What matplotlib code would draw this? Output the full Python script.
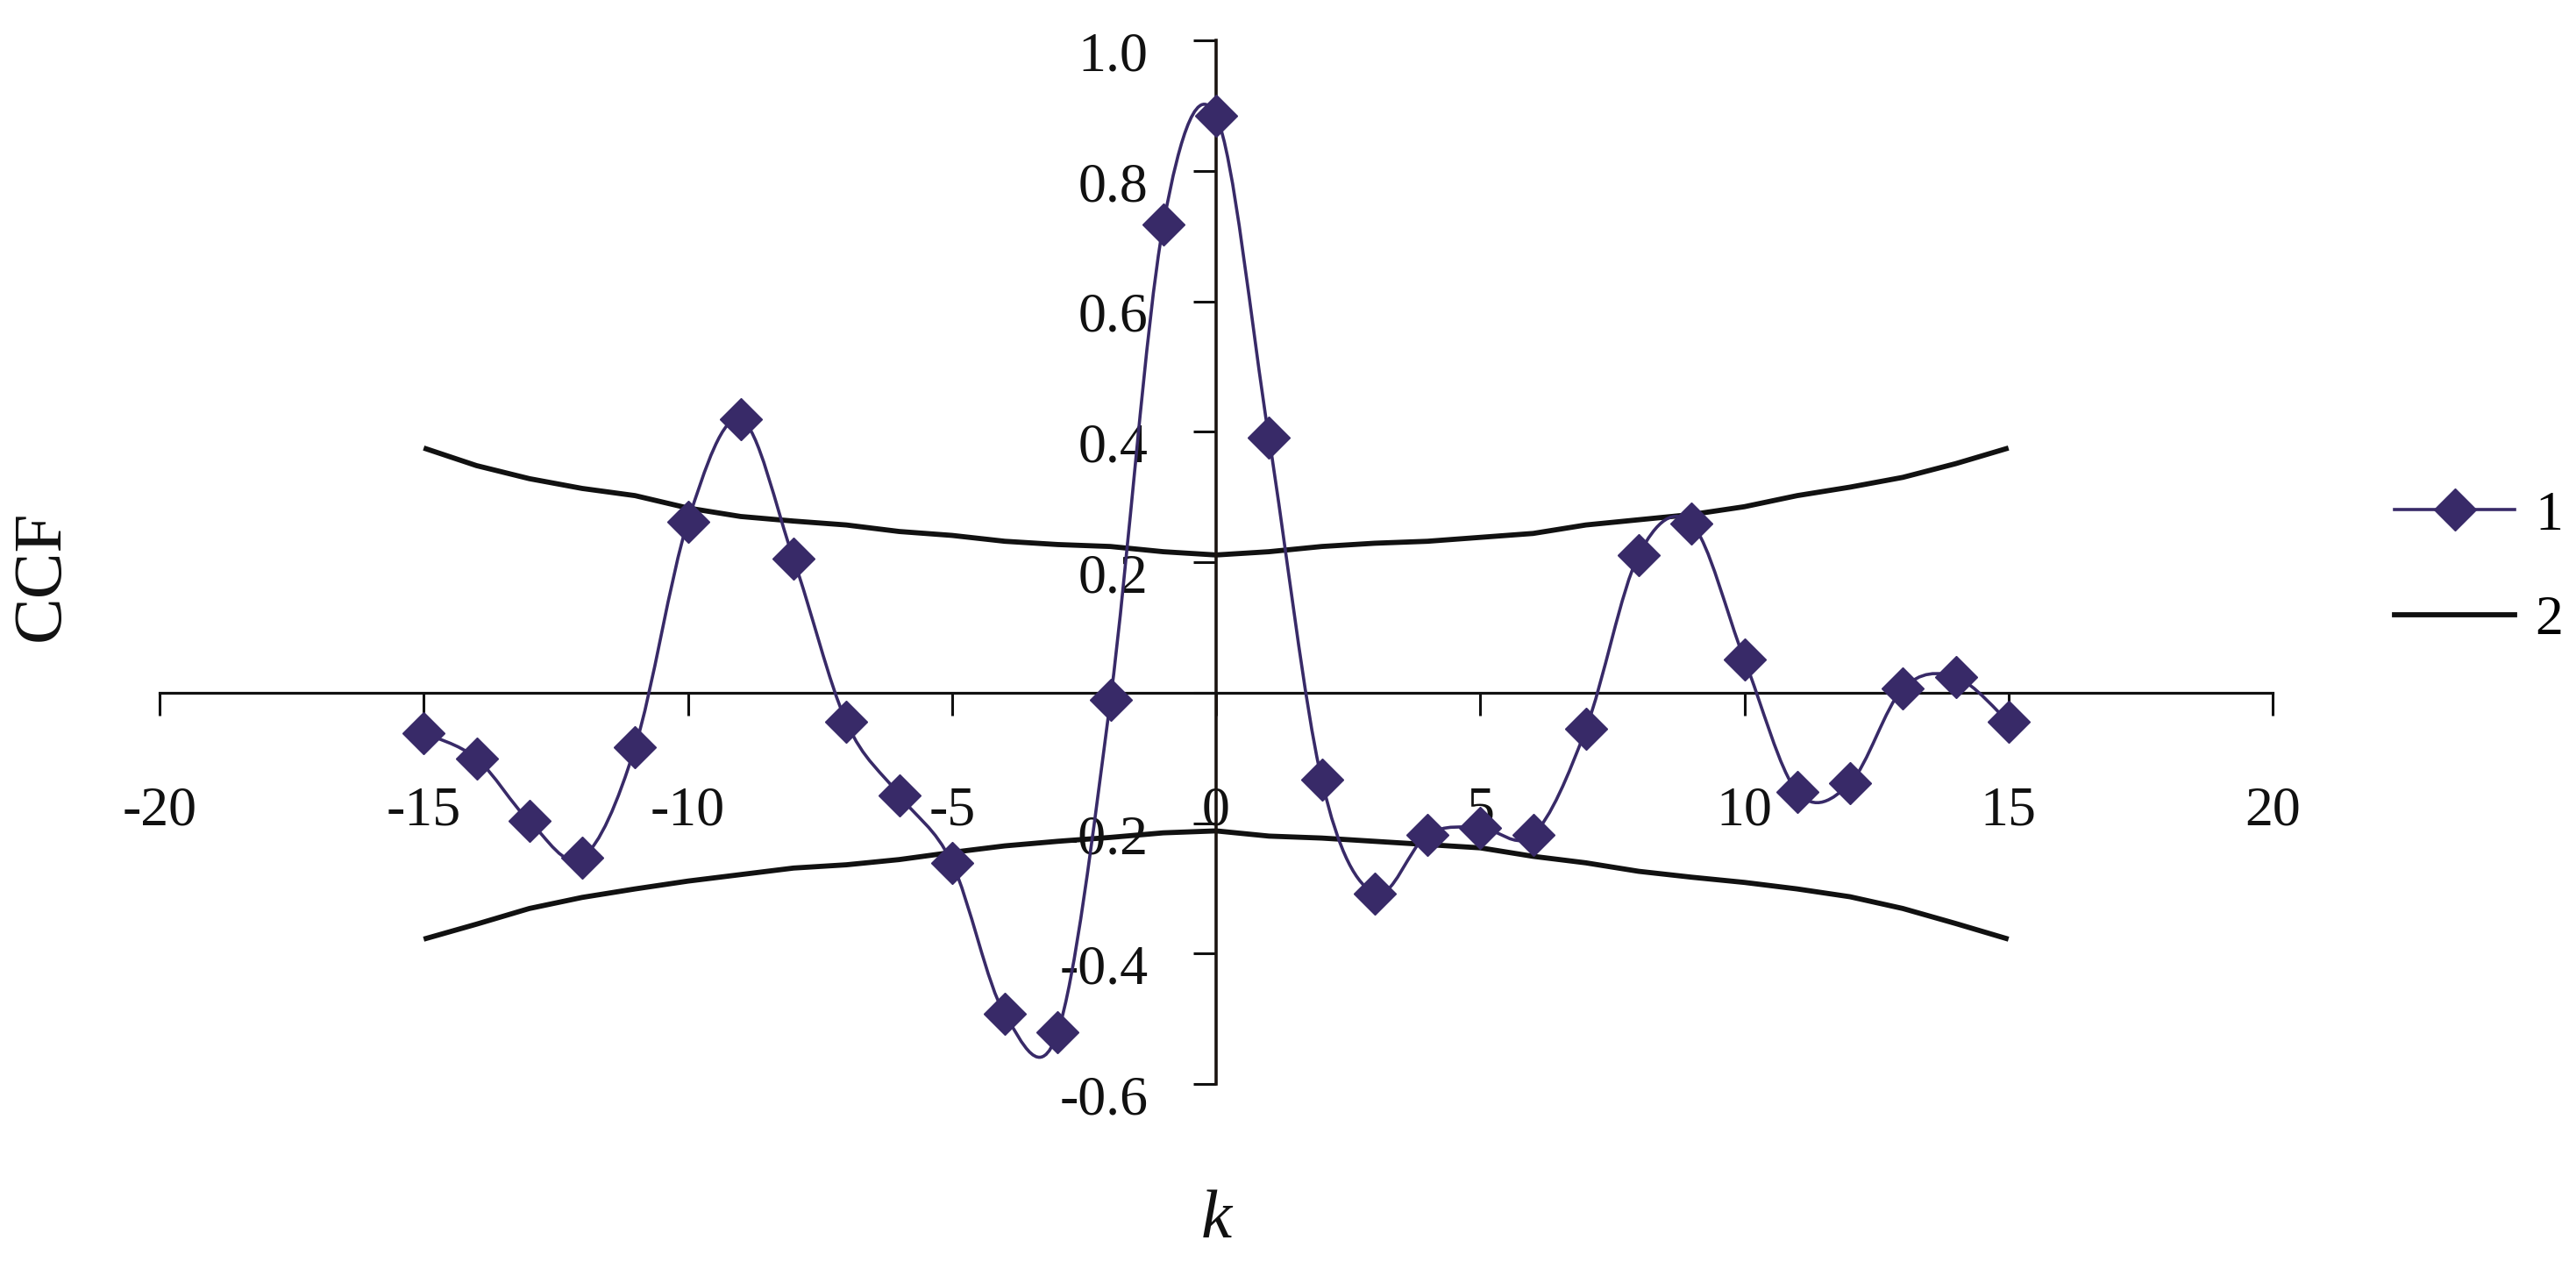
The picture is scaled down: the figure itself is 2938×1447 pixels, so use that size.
import numpy as np
import matplotlib
matplotlib.use('Agg')
import matplotlib.pyplot as plt
from matplotlib.path import Path
from matplotlib.patches import PathPatch
from matplotlib.lines import Line2D
import matplotlib.transforms as mtransforms

# ---- data ----
lags = list(range(-15, 16))
ccf = [-0.062, -0.101, -0.197, -0.253, -0.084, 0.262, 0.419, 0.205, -0.045,
       -0.157, -0.261, -0.493, -0.521, -0.011, 0.717, 0.884, 0.391, -0.134,
       -0.308, -0.218, -0.207, -0.218, -0.056, 0.211, 0.259, 0.051, -0.152,
       -0.139, 0.006, 0.024, -0.045]
upper = [0.375, 0.348, 0.328, 0.313, 0.302, 0.283, 0.270, 0.263, 0.257, 0.247,
         0.241, 0.232, 0.227, 0.224, 0.216, 0.211, 0.216, 0.224, 0.229, 0.232,
         0.238, 0.244, 0.257, 0.265, 0.273, 0.285, 0.302, 0.315, 0.330, 0.351,
         0.375]
lower = [-0.378, -0.355, -0.331, -0.314, -0.301, -0.289, -0.279, -0.269, -0.264,
         -0.256, -0.245, -0.235, -0.228, -0.222, -0.215, -0.212, -0.220, -0.223,
         -0.228, -0.233, -0.238, -0.251, -0.261, -0.274, -0.283, -0.291, -0.301,
         -0.313, -0.331, -0.354, -0.378]
x_ticks = [-20, -15, -10, -5, 0, 5, 10, 15, 20]
y_ticks = [-0.6, -0.4, -0.2, 0.0, 0.2, 0.4, 0.6, 0.8, 1.0]
y_tick_labels = ['-0.6', '-0.4', '-0.2', '', '0.2', '0.4', '0.6', '0.8', '1.0']
legend_labels = ['1', '2']

plt.rcParams['font.family'] = ['Liberation Serif', 'DejaVu Serif']
plt.rcParams['axes.unicode_minus'] = False

purple = '#382a68'
black = '#111111'

fig = plt.figure(figsize=(29.38, 14.47), dpi=100)
ax = fig.add_axes([182 / 2938, 1 - 1236 / 1447, 2410 / 2938, 1190 / 1447])
ax.set_xlim(-20, 20)
ax.set_ylim(-0.6, 1.0)

# bands (series 2)
ax.plot(lags, upper, color=black, lw=4.2, solid_joinstyle='round',
        solid_capstyle='butt', zorder=2)
ax.plot(lags, lower, color=black, lw=4.2, solid_joinstyle='round',
        solid_capstyle='butt', zorder=2)

# smoothed series 1 (Catmull-Rom style Bezier, like Excel smoothing)
P = np.column_stack([lags, ccf]).astype(float)
n = len(P)
verts = [P[0]]
codes = [Path.MOVETO]
for i in range(n - 1):
    p0 = P[i - 1] if i > 0 else P[i]
    p1 = P[i]
    p2 = P[i + 1]
    p3 = P[i + 2] if i + 2 < n else P[i + 1]
    c1 = p1 + (p2 - p0) / 6.0
    c2 = p2 - (p3 - p1) / 6.0
    verts += [c1, c2, p2]
    codes += [Path.CURVE4] * 3
ax.add_patch(PathPatch(Path(verts, codes), facecolor='none', edgecolor=purple,
                       lw=2.6, zorder=3))
ax.plot(lags, ccf, linestyle='none', marker='D', ms=24, color=purple,
        markeredgecolor=purple, markeredgewidth=1, zorder=4)

# axes through zero
for s in ['top', 'right']:
    ax.spines[s].set_visible(False)
ax.spines['left'].set_position(('data', 0))
ax.spines['bottom'].set_position(('data', 0))
ax.spines['left'].set_linewidth(2.6)
ax.spines['bottom'].set_linewidth(2.3)
ax.spines['left'].set_color('#1a1410')
ax.spines['bottom'].set_color('#111111')

ax.set_xticks(x_ticks)
ax.set_xticklabels([str(t) for t in x_ticks])
ax.set_yticks(y_ticks)
ax.set_yticklabels(y_tick_labels)
ax.tick_params(axis='x', direction='out', length=18.7, width=2.2, pad=58,
               labelsize=46, colors='#111111')
ax.tick_params(axis='y', direction='out', length=18.7, width=2.2, pad=37,
               labelsize=46, colors='#111111')
off = mtransforms.ScaledTranslation(0, -9 / 72, fig.dpi_scale_trans)
for lab in ax.get_yticklabels():
    lab.set_transform(lab.get_transform() + off)

fig.text(48 / 2938, 1 - 656 / 1447, 'CCF', rotation=90, ha='center', va='center',
         fontsize=57, color='#111111')
fig.text(1387 / 2938, 1 - 1392 / 1447, 'k', style='italic', ha='center',
         va='center', fontsize=57, color='#111111')

handles = [Line2D([], [], color=purple, lw=2.6, marker='D', ms=24,
                  markeredgecolor=purple, markeredgewidth=1),
           Line2D([], [], color=black, lw=4.2)]
fig.legend(handles, legend_labels, loc='center left',
           bbox_to_anchor=(2731 / 2938, 1 - 648 / 1447), frameon=False,
           fontsize=46, handlelength=2.15, handletextpad=0.36, labelspacing=0.95,
           borderpad=0, borderaxespad=0)

fig.savefig('out.png', dpi=100, facecolor='white')
